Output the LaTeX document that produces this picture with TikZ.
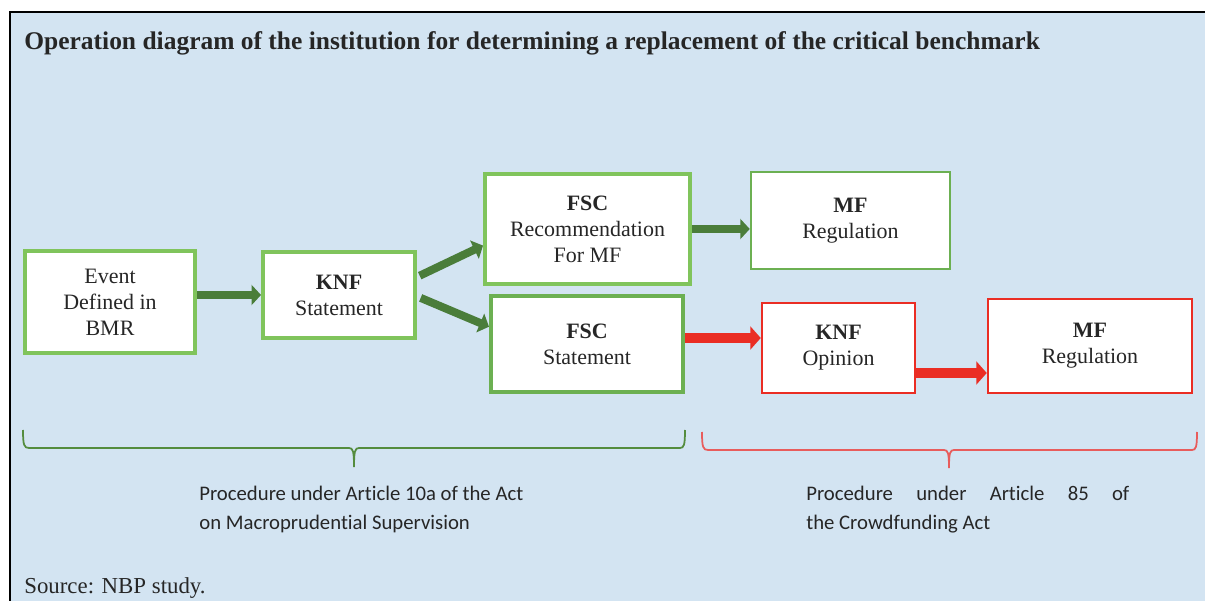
\documentclass[tikz,border=0pt]{standalone}
\usepackage{fontspec}
\setmainfont{Liberation Serif}
\setsansfont{Carlito}[Ligatures=NoCommon]
\usetikzlibrary{
  arrows.meta,
  calc,
  positioning,
}
\definecolor{panel}{RGB}{211,228,242}
\definecolor{lightgreen}{RGB}{128,196,92}
\definecolor{midgreen}{RGB}{108,176,82}
\definecolor{darkgreen}{RGB}{74,125,58}
\definecolor{bracegreen}{RGB}{84,140,62}
\definecolor{alertred}{RGB}{234,45,36}
\definecolor{bracered}{RGB}{232,92,92}

\begin{document}
\begin{tikzpicture}[x=0.02cm,y=-0.02cm,
      boxsize/.style 2 args={
        minimum width=#1*0.02cm,
        minimum height=#2*0.02cm
      },
      stage/.style={
        draw=lightgreen,
        fill=white,
        line width=0.08cm,
        align=center,
        inner sep=0pt,
        text=black!85,
        font=\fontsize{12.5}{14.8}\selectfont
      },
      redstage/.style={
        stage,
        draw=alertred,
        line width=0.05cm
      },
      greenarrow/.style={
        draw=darkgreen,
        line width=0.16cm,
        -{Triangle[length=0.19cm,width=0.4cm]}
      },
      redarrow/.style={
        draw=alertred,
        line width=0.2cm,
        -{Triangle[length=0.21cm,width=0.46cm]}
      },
      proc/.style={
        anchor=north west,
        inner sep=0pt,
        align=left,
        text=black!85,
        font=\sffamily\fontsize{11.8}{16.5}\selectfont
      }
    ]
      \useasboundingbox (0,0) rectangle (1205,601);
      \fill[panel] (10,12) rectangle (1205,601);
      \draw[line width=0.04cm] (10,601) -- (10,12) -- (1205,12);

      \node[anchor=base west, inner sep=0pt, text=black!85,
        font=\bfseries\fontsize{14.5}{17}\selectfont] (title) at (24,50)
        {Operation diagram of the institution for determining a replacement of the critical benchmark};

      \node[stage, boxsize={170}{102}] (event) at (110,302) {Event\\Defined in\\BMR};
      \node[stage, boxsize={152}{86}] (knf) at (339,295) {\textbf{KNF}\\Statement};
      \node[stage, boxsize={205}{110}] (fscrec) at (587.5,229) {\textbf{FSC}\\Recommendation\\For MF};
      \node[stage, draw=midgreen, boxsize={192}{96}] (fscst) at (587,344) {\textbf{FSC}\\Statement};
      \node[stage, draw=midgreen, line width=0.05cm, boxsize={199}{97}] (mfgreen) at (850.5,220.5) {\textbf{MF}\\Regulation};
      \node[redstage, boxsize={153}{90}] (opinion) at (838.5,348) {\textbf{KNF}\\Opinion};
      \node[redstage, boxsize={204}{94}] (mfred) at (1090,346) {\textbf{MF}\\Regulation};

      \draw[greenarrow] (event.east |- knf.west) -- (knf.west);
      \draw[greenarrow, shorten <=0.06cm] (knf.13) -- (fscrec.189);
      \draw[greenarrow, shorten <=0.08cm] (knf.-1) -- (fscst.170);
      \draw[greenarrow] (fscrec.east) -- (fscrec.east -| mfgreen.west);
      \draw[redarrow] ([yshift=0.12cm]fscst.east) -- ([yshift=0.12cm]fscst.east -| opinion.west);
      \draw[redarrow] ([yshift=-0.5cm]opinion.east) -- ([yshift=-0.5cm]opinion.east -| mfred.west);

      \draw[bracegreen, line width=0.035cm]
        (23,430) .. controls (23,445) and (24,448) .. (29,448) -- (349,448)
        .. controls (353,448) and (354,451) .. (354,467)
        .. controls (354,451) and (355,448) .. (359,448) -- (680,448)
        .. controls (684,448) and (685,445) .. (685,430);
      \draw[bracered, line width=0.035cm]
        (702,432) .. controls (702,447) and (703,450) .. (708,450) -- (944,450)
        .. controls (948,450) and (949,453) .. (949,468)
        .. controls (949,453) and (950,450) .. (954,450) -- (1192,450)
        .. controls (1196,450) and (1197,447) .. (1197,432);

      \node[proc] (procleft) at (199,486) {Procedure under Article 10a of the Act\\on Macroprudential Supervision};
      \node[proc] (procright) at (806,486) {\makebox[6.46cm][s]{Procedure under Article 85 of}\\the Crowdfunding Act};

      \node[anchor=base west, inner sep=0pt, text=black!85,
        font=\fontsize{13}{15}\selectfont] (source) at (24,594) {Source: NBP study.};
    \end{tikzpicture}
\end{document}
